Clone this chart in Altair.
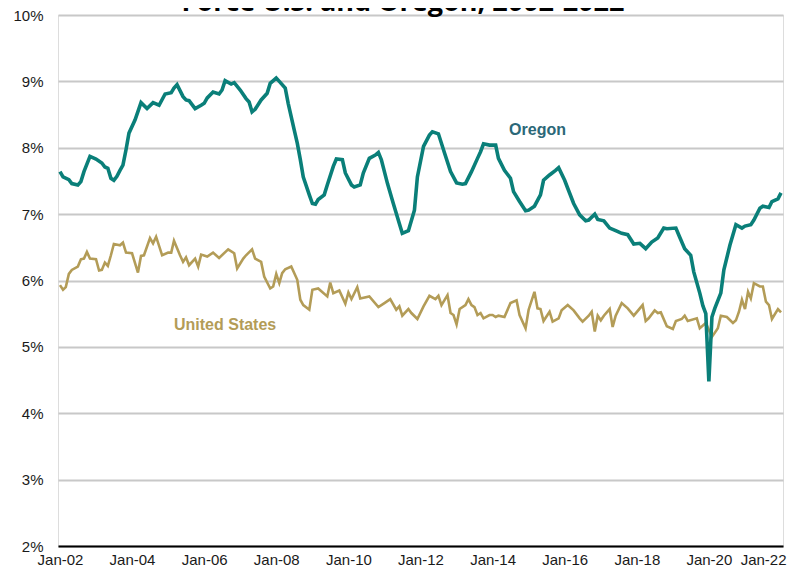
import altair as alt
import pandas as pd

# ---- data ----
oregon_dates = [
    "2002-01", "2002-02", "2002-04", "2002-05", "2002-07", "2002-08", "2002-09", "2002-11",
    "2003-01", "2003-03", "2003-04", "2003-05", "2003-06", "2003-07", "2003-08", "2003-09",
    "2003-10", "2003-11", "2003-12", "2004-02", "2004-04", "2004-06", "2004-08", "2004-10",
    "2004-12", "2005-02", "2005-03", "2005-04", "2005-06", "2005-07", "2005-08", "2005-10",
    "2005-12", "2006-01", "2006-02", "2006-04", "2006-06", "2006-07", "2006-08", "2006-10",
    "2006-11", "2007-01", "2007-03", "2007-04", "2007-05", "2007-06", "2007-08", "2007-10",
    "2007-11", "2008-01", "2008-02", "2008-04", "2008-05", "2008-07", "2008-08", "2008-09",
    "2008-10", "2008-12", "2009-01", "2009-02", "2009-03", "2009-05", "2009-06", "2009-08",
    "2009-09", "2009-11", "2009-12", "2010-02", "2010-03", "2010-05", "2010-06", "2010-08",
    "2010-10", "2010-11", "2010-12", "2011-02", "2011-04", "2011-06", "2011-07", "2011-09",
    "2011-11", "2011-12", "2012-02", "2012-04", "2012-05", "2012-07", "2012-09", "2012-11",
    "2013-01", "2013-03", "2013-04", "2013-06", "2013-08", "2013-09", "2013-10", "2013-12",
    "2014-02", "2014-03", "2014-05", "2014-07", "2014-08", "2014-10", "2014-12", "2015-01",
    "2015-03", "2015-05", "2015-06", "2015-08", "2015-10", "2015-11", "2016-01", "2016-02",
    "2016-04", "2016-06", "2016-08", "2016-09", "2016-11", "2016-12", "2017-02", "2017-04",
    "2017-06", "2017-08", "2017-10", "2017-12", "2018-02", "2018-04", "2018-06", "2018-08",
    "2018-10", "2018-11", "2019-02", "2019-03", "2019-05", "2019-07", "2019-08", "2019-10",
    "2019-11", "2019-12", "2020-01", "2020-02", "2020-03", "2020-05", "2020-06", "2020-08",
    "2020-10", "2020-12", "2021-01", "2021-03", "2021-04", "2021-06", "2021-07", "2021-09",
    "2021-10", "2021-12", "2022-01",
]
oregon_values = [
    7.64, 7.56, 7.52, 7.46, 7.44, 7.49, 7.64, 7.87,
    7.83, 7.77, 7.71, 7.69, 7.54, 7.51, 7.57, 7.66,
    7.74, 7.97, 8.22, 8.42, 8.68, 8.59, 8.68, 8.64,
    8.81, 8.83, 8.90, 8.95, 8.77, 8.72, 8.71, 8.59,
    8.64, 8.67, 8.75, 8.84, 8.81, 8.87, 9.01, 8.96,
    8.98, 8.87, 8.74, 8.69, 8.54, 8.58, 8.72, 8.82,
    8.97, 9.05, 9.00, 8.90, 8.67, 8.27, 8.07, 7.82,
    7.56, 7.29, 7.16, 7.15, 7.22, 7.29, 7.44, 7.72,
    7.83, 7.82, 7.62, 7.44, 7.41, 7.44, 7.62, 7.84,
    7.89, 7.93, 7.82, 7.46, 7.16, 6.86, 6.71, 6.75,
    7.06, 7.56, 8.02, 8.19, 8.24, 8.21, 7.92, 7.64,
    7.47, 7.45, 7.46, 7.64, 7.84, 7.94, 8.06, 8.04,
    8.04, 7.84, 7.66, 7.54, 7.34, 7.19, 7.05, 7.06,
    7.12, 7.29, 7.51, 7.59, 7.66, 7.70, 7.51, 7.39,
    7.16, 6.99, 6.90, 6.91, 7.00, 6.92, 6.90, 6.79,
    6.75, 6.71, 6.69, 6.55, 6.56, 6.48, 6.58, 6.64,
    6.79, 6.78, 6.79, 6.69, 6.48, 6.38, 6.13, 5.81,
    5.62, 5.50, 4.48, 5.45, 5.58, 5.81, 6.16, 6.53,
    6.84, 6.79, 6.82, 6.84, 6.91, 7.09, 7.12, 7.10,
    7.19, 7.23, 7.32,
]

us_dates = [
    "2002-01", "2002-02", "2002-03", "2002-04", "2002-05", "2002-07", "2002-08", "2002-09",
    "2002-10", "2002-11", "2003-01", "2003-02", "2003-03", "2003-04", "2003-05", "2003-06",
    "2003-07", "2003-09", "2003-10", "2003-11", "2004-01", "2004-03", "2004-04", "2004-05",
    "2004-07", "2004-08", "2004-09", "2004-11", "2005-01", "2005-02", "2005-03", "2005-05",
    "2005-06", "2005-07", "2005-08", "2005-10", "2005-11", "2005-12", "2006-02", "2006-04",
    "2006-06", "2006-09", "2006-11", "2006-12", "2007-02", "2007-03", "2007-05", "2007-06",
    "2007-08", "2007-09", "2007-11", "2007-12", "2008-01", "2008-02", "2008-03", "2008-04",
    "2008-06", "2008-08", "2008-09", "2008-10", "2008-12", "2009-01", "2009-03", "2009-06",
    "2009-07", "2009-08", "2009-10", "2009-12", "2010-01", "2010-02", "2010-04", "2010-05",
    "2010-08", "2010-11", "2011-01", "2011-03", "2011-05", "2011-06", "2011-07", "2011-09",
    "2011-10", "2011-12", "2012-02", "2012-04", "2012-06", "2012-07", "2012-08", "2012-10",
    "2012-11", "2012-12", "2013-01", "2013-02", "2013-04", "2013-05", "2013-06", "2013-07",
    "2013-08", "2013-09", "2013-10", "2013-12", "2014-01", "2014-02", "2014-03", "2014-05",
    "2014-07", "2014-09", "2014-10", "2014-12", "2015-01", "2015-03", "2015-04", "2015-05",
    "2015-06", "2015-08", "2015-09", "2015-11", "2015-12", "2016-02", "2016-04", "2016-06",
    "2016-07", "2016-09", "2016-10", "2016-11", "2016-12", "2017-01", "2017-02", "2017-04",
    "2017-05", "2017-06", "2017-08", "2017-10", "2017-12", "2018-03", "2018-04", "2018-05",
    "2018-07", "2018-08", "2018-09", "2018-11", "2019-01", "2019-02", "2019-04", "2019-05",
    "2019-06", "2019-09", "2019-10", "2019-12", "2020-02", "2020-04", "2020-05", "2020-07",
    "2020-09", "2020-10", "2020-11", "2020-12", "2021-01", "2021-02", "2021-03", "2021-04",
    "2021-06", "2021-07", "2021-08", "2021-09", "2021-10", "2021-12", "2022-01",
]
us_values = [
    5.93, 5.86, 5.90, 6.10, 6.16, 6.21, 6.32, 6.33,
    6.43, 6.33, 6.32, 6.15, 6.16, 6.27, 6.22, 6.38,
    6.55, 6.53, 6.57, 6.42, 6.41, 6.12, 6.37, 6.38,
    6.64, 6.56, 6.66, 6.38, 6.42, 6.42, 6.60, 6.38,
    6.28, 6.35, 6.23, 6.33, 6.21, 6.39, 6.36, 6.42,
    6.34, 6.47, 6.41, 6.18, 6.33, 6.38, 6.47, 6.33,
    6.28, 6.06, 5.88, 5.91, 6.10, 5.96, 6.11, 6.17,
    6.21, 6.01, 5.71, 5.63, 5.56, 5.86, 5.88, 5.76,
    5.97, 5.81, 5.85, 5.65, 5.82, 5.72, 5.90, 5.73,
    5.76, 5.60, 5.66, 5.72, 5.56, 5.61, 5.47, 5.57,
    5.51, 5.42, 5.61, 5.77, 5.72, 5.77, 5.63, 5.78,
    5.51, 5.48, 5.34, 5.57, 5.63, 5.72, 5.63, 5.60,
    5.48, 5.51, 5.43, 5.48, 5.48, 5.45, 5.47, 5.45,
    5.66, 5.70, 5.48, 5.28, 5.56, 5.83, 5.58, 5.57,
    5.39, 5.53, 5.38, 5.43, 5.55, 5.63, 5.55, 5.43,
    5.38, 5.47, 5.53, 5.23, 5.47, 5.40, 5.47, 5.57,
    5.30, 5.47, 5.66, 5.58, 5.47, 5.63, 5.39, 5.43,
    5.55, 5.51, 5.52, 5.31, 5.27, 5.39, 5.42, 5.47,
    5.39, 5.43, 5.28, 5.36, 5.15, 5.28, 5.47, 5.45,
    5.36, 5.40, 5.53, 5.71, 5.57, 5.83, 5.73, 5.96,
    5.91, 5.91, 5.68, 5.63, 5.42, 5.57, 5.52,
]

label_names = ["Oregon", "United States"]
label_dates = ["2015-04", "2006-08"]
label_values = [8.27, 5.33]

title_text = "Force U.S. and Oregon, 2002-2022"
year_ticks = list(range(2002, 2023, 2))
y_ticks = [2, 3, 4, 5, 6, 7, 8, 9, 10]

OREGON_COLOR = "#0a7f79"
US_COLOR = "#b39c57"
OREGON_LABEL_COLOR = "#2b6878"

df_or = pd.DataFrame({"date": [d + "-01" for d in oregon_dates], "value": oregon_values})
df_us = pd.DataFrame({"date": [d + "-01" for d in us_dates], "value": us_values})
df_lab = pd.DataFrame({"name": label_names, "date": [d + "-01" for d in label_dates],
                       "value": label_values})

x_scale = alt.Scale(
    type="utc",
    domain=[alt.DateTime(year=2001, month=12, date=12, utc=True),
            alt.DateTime(year=2022, month=1, date=21, utc=True)],
)
y_scale = alt.Scale(domain=[2, 10], nice=False, zero=False)

last_label_test = "utcyear(datum.value) >= 2022"
x_axis = alt.Axis(
    values=[alt.DateTime(year=y, month=1, date=1, utc=True) for y in year_ticks],
    labelExpr="utcFormat(datum.value, '%b-%y')",
    title=None, grid=False, ticks=False,
    domain=True, domainColor="#000000", domainWidth=2,
    labelFont="Liberation Sans", labelFontSize=15, labelColor="#1a1a1a",
    labelPadding=6, labelFlush=False, labelOverlap=False,
    labelAlign={"condition": {"test": last_label_test, "value": "right"}, "value": "center"},
    labelOffset={"condition": {"test": last_label_test, "value": 5}, "value": 0},
)
y_axis = alt.Axis(
    values=y_ticks,
    labelExpr="datum.value + '%'",
    title=None, grid=True, gridColor="#c8c8c8", gridWidth=2,
    ticks=False, domain=False,
    labelFont="Liberation Sans", labelFontSize=15, labelColor="#1a1a1a",
    labelPadding=15,
)

us_line = alt.Chart(df_us).mark_line(color=US_COLOR, strokeWidth=2.6, interpolate="linear").encode(
    x=alt.X("date:T", scale=x_scale, axis=x_axis),
    y=alt.Y("value:Q", scale=y_scale, axis=y_axis),
)
or_line = alt.Chart(df_or).mark_line(color=OREGON_COLOR, strokeWidth=3.6, interpolate="linear").encode(
    x=alt.X("date:T", scale=x_scale),
    y=alt.Y("value:Q", scale=y_scale),
)
labels = alt.Chart(df_lab).mark_text(
    font="Liberation Sans", fontSize=16, fontWeight="bold", align="center", baseline="middle",
).encode(
    x=alt.X("date:T", scale=x_scale),
    y=alt.Y("value:Q", scale=y_scale),
    text="name:N",
    color=alt.Color("name:N", scale=alt.Scale(domain=label_names,
                                              range=[OREGON_LABEL_COLOR, US_COLOR]), legend=None),
)
title = alt.Chart(pd.DataFrame({"t": [title_text]})).mark_text(
    font="Open Sans", fontSize=27, fontWeight="bold", align="center", baseline="alphabetic",
    color="#000000",
).encode(text="t:N", x=alt.value(345), y=alt.value(-4))

chart = alt.layer(us_line, or_line, labels, title).properties(
    width=725, height=531,
    autosize=alt.AutoSizeParams(type="none"),
    padding={"left": 50, "top": 7, "right": 4, "bottom": 23},
).configure_view(stroke=None).configure(background="#ffffff")

chart.save("out.html", embed_options={"renderer": "svg", "actions": False})
